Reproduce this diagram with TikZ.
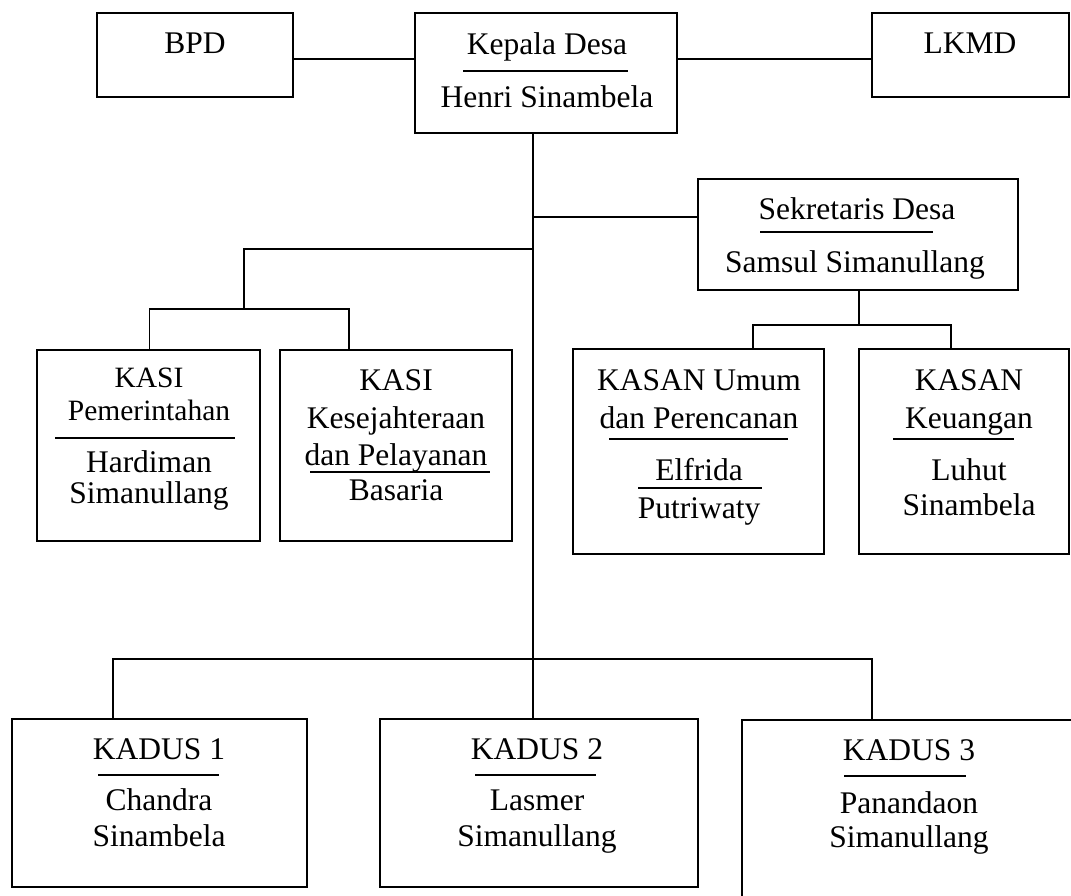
\documentclass[tikz,border=0pt]{standalone}
\usepackage{fontspec}
\setmainfont{Liberation Serif}
\begin{document}
\begin{tikzpicture}[x=1pt,y=-1pt,line width=1.5pt,
  box/.style={draw,line width=1.5pt,inner sep=0pt,outer sep=0pt,anchor=north west},
  txt/.style={anchor=base,inner sep=0pt,font=\fontsize{31.5}{36}\selectfont},
  stxt/.style={anchor=base,inner sep=0pt,font=\fontsize{29.5}{34}\selectfont},
  rul/.style={line width=1.5pt}]
\fill[white] (0,0) rectangle (1071,895);
\useasboundingbox (0,0) rectangle (1071,895);
\clip (0,0) rectangle (1071,895);

% boxes
\node[box,minimum width=196pt,minimum height=84pt] (bpd) at (97,13) {};
\node[box,minimum width=262pt,minimum height=120pt] (kades) at (415,13) {};
\node[box,minimum width=197pt,minimum height=84pt] (lkmd) at (872,13) {};
\node[box,minimum width=320pt,minimum height=111pt] (sek) at (698,179) {};
\node[box,minimum width=223pt,minimum height=191pt] (kasi1) at (37,350) {};
\node[box,minimum width=232pt,minimum height=191pt] (kasi2) at (280,350) {};
\node[box,minimum width=251pt,minimum height=205pt] (kasan1) at (573,349) {};
\node[box,minimum width=210pt,minimum height=205pt] (kasan2) at (859,349) {};
\node[box,minimum width=295pt,minimum height=168pt] (kd1) at (12,719) {};
\node[box,minimum width=318pt,minimum height=168pt] (kd2) at (380,719) {};
\node[box,minimum width=338pt,minimum height=185pt] (kd3) at (742,720) {};

% texts
\node[txt] (tbpd) at (195,53) {BPD};
\node[txt] (tlkmd) at (970,53) {LKMD};
\node[txt] (tk1) at (547,54) {Kepala Desa};
\node[txt] (tk2) at (547,107) {Henri Sinambela};
\node[txt] (ts1) at (857,219) {Sekretaris Desa};
\node[txt] (ts2) at (855,272) {Samsul Simanullang};

\node[stxt] (ta1) at (149,387) {KASI};
\node[stxt] (ta2) at (149,420) {Pemerintahan};
\node[txt] (ta3) at (149,472) {Hardiman};
\node[txt] (ta4) at (149,503) {Simanullang};

\node[txt] (tb1) at (396,390) {KASI};
\node[txt] (tb2) at (396,428) {Kesejahteraan};
\node[txt] (tb3) at (396,465) {dan Pelayanan};
\node[txt] (tb4) at (396,500) {Basaria};

\node[txt] (tc1) at (699,390) {KASAN Umum};
\node[txt] (tc2) at (699,428) {dan Perencanan};
\node[txt] (tc3) at (699,480) {Elfrida};
\node[txt] (tc4) at (699,518) {Putriwaty};

\node[txt] (td1) at (969,390) {KASAN};
\node[txt] (td2) at (969,428) {Keuangan};
\node[txt] (td3) at (969,480) {Luhut};
\node[txt] (td4) at (969,515) {Sinambela};

\node[txt] (te1) at (159,759) {KADUS 1};
\node[txt] (te2) at (159,810) {Chandra};
\node[txt] (te3) at (159,846) {Sinambela};

\node[txt] (tf1) at (537,759) {KADUS 2};
\node[txt] (tf2) at (537,810) {Lasmer};
\node[txt] (tf3) at (537,846) {Simanullang};

\node[txt] (tg1) at (909,760) {KADUS 3};
\node[txt] (tg2) at (909,813) {Panandaon};
\node[txt] (tg3) at (909,847) {Simanullang};

% rules inside boxes
\draw[rul] (463,71) -- (628,71);
\draw[rul] (760,232) -- (933,232);
\draw[rul] (55,438) -- (235,438);
\draw[rul] (310,472) -- (490,472);
\draw[rul] (609,439) -- (788,439);
\draw[rul] (638,488) -- (762,488);
\draw[rul] (893,439) -- (1014,439);
\draw[rul] (98,775) -- (219,775);
\draw[rul] (475,775) -- (596,775);
\draw[rul] (844,776) -- (966,776);

% connectors
\coordinate (hl) at (0,59);
\draw (bpd.east |- hl) -- (kades.west |- hl);
\draw (kades.east |- hl) -- (lkmd.west |- hl);
\coordinate (tx) at (533,0);
\draw (kades.south -| tx) -- (kd2.north -| tx);
\coordinate (sj) at (533,217);
\draw (sj) -- (sek.west |- sj);
\coordinate (kj) at (533,249);
\coordinate (kb) at (244,249);
\coordinate (kbus) at (244,309);
\draw (kj) -- (kb) -- (kbus);
\coordinate (kl) at (149.5,309);
\coordinate (kr) at (349,309);
\draw (kasi1.north -| kl) -- (kl) -- (kr) -- (kasi2.north -| kr);
\coordinate (sb) at (859,325);
\draw (sek.south -| sb) -- (sb);
\coordinate (al) at (753,325);
\coordinate (ar) at (951,325);
\draw (kasan1.north -| al) -- (al) -- (ar) -- (kasan2.north -| ar);
\coordinate (dl) at (113,659);
\coordinate (dr) at (872,659);
\draw (kd1.north -| dl) -- (dl) -- (dr) -- (kd3.north -| dr);
\end{tikzpicture}
\end{document}
